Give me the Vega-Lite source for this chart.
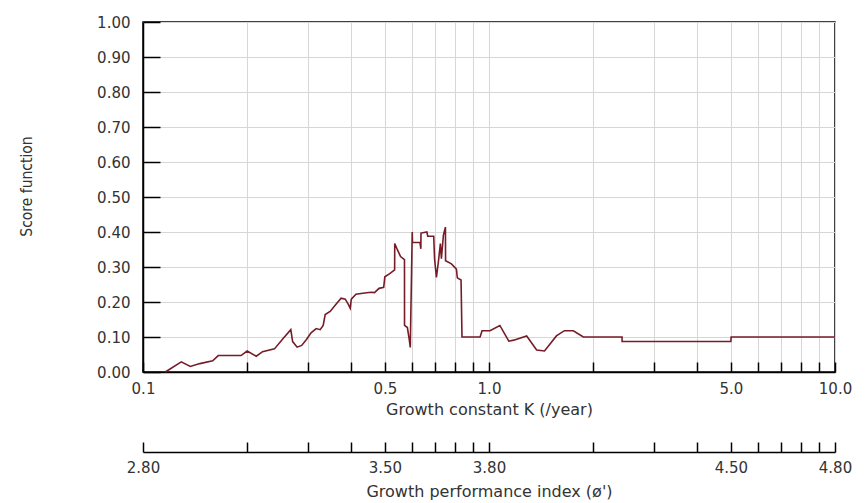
{
  "$schema": "https://vega.github.io/schema/vega-lite/v6.json",
  "width": 692,
  "height": 350,
  "autosize": {"type": "none"},
  "padding": {"left": 143, "top": 22, "right": 31, "bottom": 131},
  "background": "white",
  "config": {
    "view": {"stroke": "#000", "strokeWidth": 1.5},
    "axis": {
      "domainColor": "#000", "domainWidth": 1.5,
      "tickColor": "#000", "tickWidth": 1.5,
      "gridColor": "#d6d6d6", "gridWidth": 1,
      "labelFont": "DejaVu Sans", "labelFontSize": 15, "labelColor": "#333",
      "titleFont": "DejaVu Sans", "titleFontSize": 16, "titleFontWeight": "normal", "titleColor": "#333"
    }
  },
  "data": {"values": [
    {"K": 0.116, "score": 0.0},
    {"K": 0.129, "score": 0.029},
    {"K": 0.137, "score": 0.016},
    {"K": 0.146, "score": 0.024},
    {"K": 0.159, "score": 0.032},
    {"K": 0.165, "score": 0.047},
    {"K": 0.192, "score": 0.047},
    {"K": 0.200, "score": 0.060},
    {"K": 0.2125, "score": 0.045},
    {"K": 0.2216, "score": 0.058},
    {"K": 0.2398, "score": 0.066},
    {"K": 0.2548, "score": 0.097},
    {"K": 0.2674, "score": 0.121},
    {"K": 0.2707, "score": 0.087},
    {"K": 0.2789, "score": 0.071},
    {"K": 0.2875, "score": 0.076},
    {"K": 0.2964, "score": 0.092},
    {"K": 0.306, "score": 0.112},
    {"K": 0.3166, "score": 0.124},
    {"K": 0.3251, "score": 0.121},
    {"K": 0.3317, "score": 0.133},
    {"K": 0.3362, "score": 0.164},
    {"K": 0.3474, "score": 0.173},
    {"K": 0.3617, "score": 0.194},
    {"K": 0.3739, "score": 0.211},
    {"K": 0.3841, "score": 0.208},
    {"K": 0.3918, "score": 0.194},
    {"K": 0.3971, "score": 0.182},
    {"K": 0.400, "score": 0.208},
    {"K": 0.4125, "score": 0.222},
    {"K": 0.432, "score": 0.225},
    {"K": 0.456, "score": 0.228},
    {"K": 0.4667, "score": 0.227},
    {"K": 0.4812, "score": 0.239},
    {"K": 0.4962, "score": 0.242},
    {"K": 0.500, "score": 0.272},
    {"K": 0.5165, "score": 0.281},
    {"K": 0.5337, "score": 0.292},
    {"K": 0.534, "score": 0.367},
    {"K": 0.5443, "score": 0.348},
    {"K": 0.5551, "score": 0.330},
    {"K": 0.5698, "score": 0.321},
    {"K": 0.570, "score": 0.133},
    {"K": 0.5809, "score": 0.127},
    {"K": 0.5884, "score": 0.092},
    {"K": 0.5922, "score": 0.070},
    {"K": 0.600, "score": 0.400},
    {"K": 0.601, "score": 0.370},
    {"K": 0.6317, "score": 0.370},
    {"K": 0.6354, "score": 0.352},
    {"K": 0.636, "score": 0.397},
    {"K": 0.6614, "score": 0.400},
    {"K": 0.6652, "score": 0.388},
    {"K": 0.6922, "score": 0.388},
    {"K": 0.6961, "score": 0.324},
    {"K": 0.7047, "score": 0.270},
    {"K": 0.7141, "score": 0.315},
    {"K": 0.7236, "score": 0.367},
    {"K": 0.7285, "score": 0.324},
    {"K": 0.7383, "score": 0.391},
    {"K": 0.7483, "score": 0.414},
    {"K": 0.749, "score": 0.318},
    {"K": 0.7788, "score": 0.309},
    {"K": 0.805, "score": 0.294},
    {"K": 0.810, "score": 0.269},
    {"K": 0.8303, "score": 0.263},
    {"K": 0.8355, "score": 0.100},
    {"K": 0.9424, "score": 0.100},
    {"K": 0.9548, "score": 0.118},
    {"K": 1.0066, "score": 0.118},
    {"K": 1.075, "score": 0.133},
    {"K": 1.141, "score": 0.088},
    {"K": 1.179, "score": 0.091},
    {"K": 1.285, "score": 0.103},
    {"K": 1.373, "score": 0.063},
    {"K": 1.447, "score": 0.060},
    {"K": 1.566, "score": 0.103},
    {"K": 1.652, "score": 0.118},
    {"K": 1.753, "score": 0.118},
    {"K": 1.873, "score": 0.100},
    {"K": 2.424, "score": 0.100},
    {"K": 2.425, "score": 0.087},
    {"K": 5.0, "score": 0.087},
    {"K": 5.01, "score": 0.100},
    {"K": 10.0, "score": 0.100}
  ]},
  "layer": [
    {
      "mark": {"type": "line", "color": "#761c28", "strokeWidth": 1.6},
      "encoding": {
        "x": {
          "field": "K", "type": "quantitative",
          "scale": {"type": "log", "domain": [0.1, 10], "nice": false},
          "axis": {
            "orient": "bottom",
            "values": [0.1, 0.2, 0.3, 0.4, 0.5, 0.6, 0.7, 0.8, 0.9, 1, 2, 3, 4, 5, 6, 7, 8, 9, 10],
            "labelExpr": "indexof([0.1, 0.5, 1, 5, 10], datum.value) >= 0 ? format(datum.value, '.1f') : ''",
            "labelOverlap": false, "labelFlush": false,
            "tickSize": -10, "labelPadding": 19,
            "grid": true,
            "title": "Growth constant K (/year)", "titlePadding": 5
          }
        },
        "y": {
          "field": "score", "type": "quantitative",
          "scale": {"domain": [0, 1], "nice": false},
          "axis": {
            "values": [0, 0.1, 0.2, 0.3, 0.4, 0.5, 0.6, 0.7, 0.8, 0.9, 1],
            "format": ".2f", "labelFlush": false, "labelOverlap": false,
            "tickSize": -17, "labelPadding": 30,
            "grid": true,
            "title": "Score function", "titleFont": "DejaVu Sans Condensed, Liberation Sans", "titleFontSize": 15.5,
            "titlePadding": 62, "titleY": 164
          }
        }
      }
    },
    {
      "mark": {"type": "point", "opacity": 0},
      "encoding": {
        "x": {
          "field": "K", "type": "quantitative",
          "scale": {"type": "log", "domain": [0.1, 10], "nice": false},
          "axis": {
            "orient": "bottom", "offset": 80,
            "values": [0.1, 0.2, 0.3, 0.4, 0.5, 0.6, 0.7, 0.8, 0.9, 1, 2, 3, 4, 5, 6, 7, 8, 9, 10],
            "labelExpr": "indexof([0.1, 0.5, 1, 5, 10], datum.value) >= 0 ? format(log(datum.value) / LN10 + 3.8, '.2f') : ''",
            "labelOverlap": false, "labelFlush": false,
            "tickSize": -10, "labelPadding": 18,
            "grid": false,
            "title": "Growth performance index (ø')", "titlePadding": 8
          }
        }
      }
    }
  ],
  "resolve": {"axis": {"x": "independent"}}
}
